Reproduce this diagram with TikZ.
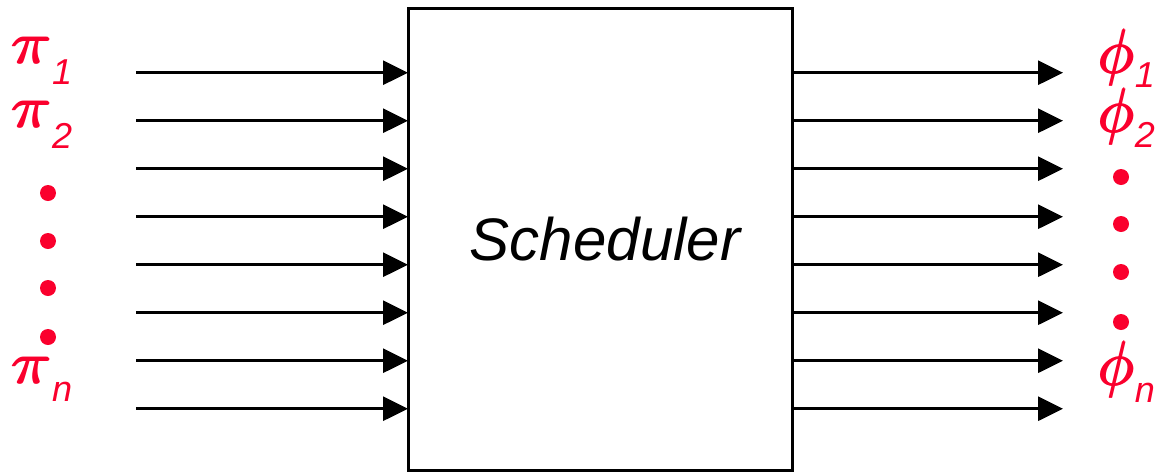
\documentclass[tikz,border=0pt]{standalone}
\usepackage{graphicx}
\usepackage{fontspec}
\setsansfont{Liberation Sans}
\usetikzlibrary{arrows.meta}
\definecolor{lblred}{RGB}{250,0,45}
\newcommand\fatsym[1]{\rlap{#1}\rlap{\kern1.9pt#1}\rlap{\kern0.95pt\raisebox{1pt}{#1}}\rlap{\kern0.95pt\raisebox{-0.6pt}{#1}}\phantom{#1}\kern1.9pt}
\newcommand\symlab[5]{\fatsym{\scalebox{#4}[#5]{$#1$}}\raisebox{#3}{\sffamily\itshape\fontsize{36}{36}\selectfont #2}}
\begin{document}
\begin{tikzpicture}[x=1pt,y=-1pt,
  arr/.style={line width=3pt,-{Triangle[length=25pt,width=24pt]}},
  sym/.style={text=lblred,inner sep=0,anchor=base west},
  reddot/.style={circle,fill=lblred,minimum size=16pt,inner sep=0}]
\useasboundingbox (0,0) rectangle (1161,472);
\node[draw,line width=3pt,minimum width=384pt,minimum height=462pt,inner sep=0,outer sep=0] (box) at (600,239.5) {};
\node[font=\sffamily\itshape\fontsize{60}{60}\selectfont,anchor=base,inner sep=0] (lbl) at (605,260) {Scheduler};
\foreach \i in {1,...,8} {
  \coordinate (l\i) at (136,{24.7+48*\i});
  \coordinate (r\i) at (1063,{24.7+48*\i});
  \draw[arr] (l\i) -- (l\i -| box.west);
  \draw[arr] (r\i -| box.east) -- (r\i);
}
\node[sym] (p1) at (10,63) {\symlab{\pi}{1}{-21pt}{6.6}{5.9}};
\node[sym] (p2) at (10,127) {\symlab{\pi}{2}{-21pt}{6.6}{5.9}};
\node[sym] (pn) at (10,383) {\symlab{\pi}{n}{-18pt}{6.6}{5.9}};
\node[reddot] (ld1) at (48,193) {};
\node[reddot] (ld2) at (48,241) {};
\node[reddot] (ld3) at (48,288) {};
\node[reddot] (ld4) at (48,337) {};
\node[sym] (f1) at (1097,73) {\symlab{\phi}{1}{-14pt}{6.0}{6.3}};
\node[sym] (f2) at (1097,132) {\symlab{\phi}{2}{-15pt}{6.0}{6.3}};
\node[sym] (fn) at (1097,385) {\symlab{\phi}{n}{-17pt}{6.0}{6.3}};
\node[reddot] (rd1) at (1121,177) {};
\node[reddot] (rd2) at (1121,224) {};
\node[reddot] (rd3) at (1121,272) {};
\node[reddot] (rd4) at (1121,322) {};
\end{tikzpicture}
\end{document}
